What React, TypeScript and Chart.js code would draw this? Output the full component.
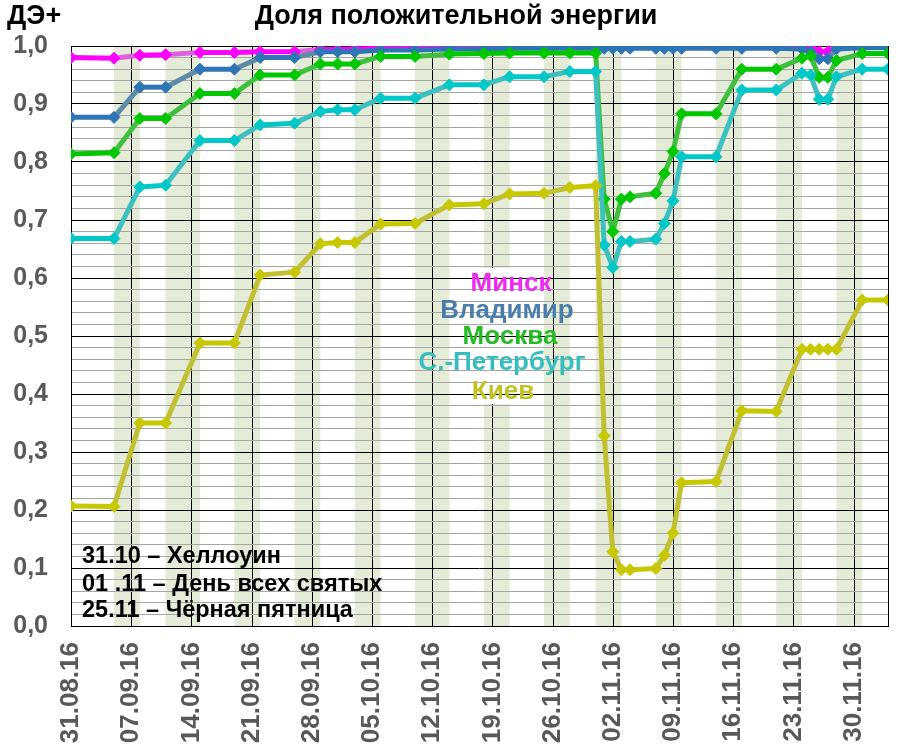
import { useEffect, useRef } from 'react';
import { Chart, registerables } from 'chart.js';

Chart.register(...registerables);

// day index counted from 31.08.16
const days = [0, 5, 8, 11, 15, 19, 22, 26, 29, 31, 33, 36, 40, 44, 48, 51, 55, 58, 61, 62, 63, 64, 65, 68, 69, 70, 71, 75, 78, 82, 85, 86, 87, 88, 89, 92, 95];

const minsk = [0.980, 0.979, 0.984, 0.985, 0.989, 0.989, 0.990, 0.990, 0.994, 0.994, 0.995, 0.996, 0.996, 0.997, 0.998, 0.998, 0.998, 0.998, 0.999, 0.999, 0.999, 0.999, 0.999, 0.999, 0.999, 0.999, 0.999, 0.999, 0.999, 0.999, 0.999, 0.997, 0.990, 0.990, 0.999, 0.999, 0.999];
const vladimir = [0.877, 0.877, 0.929, 0.929, 0.960, 0.960, 0.980, 0.980, 0.990, 0.990, 0.990, 0.993, 0.993, 0.995, 0.995, 0.996, 0.996, 0.996, 0.996, 0.996, 0.996, 0.996, 0.996, 0.996, 0.996, 0.996, 0.996, 0.996, 0.996, 0.996, 0.995, 0.990, 0.978, 0.978, 0.995, 0.997, 0.997];
const moscow = [0.814, 0.816, 0.875, 0.875, 0.918, 0.918, 0.950, 0.950, 0.969, 0.969, 0.969, 0.982, 0.982, 0.986, 0.987, 0.988, 0.988, 0.988, 0.988, 0.736, 0.680, 0.736, 0.740, 0.746, 0.780, 0.818, 0.883, 0.883, 0.960, 0.960, 0.979, 0.983, 0.946, 0.946, 0.975, 0.987, 0.987];
const spb = [0.668, 0.668, 0.757, 0.760, 0.837, 0.837, 0.864, 0.867, 0.887, 0.890, 0.890, 0.910, 0.910, 0.933, 0.933, 0.947, 0.947, 0.956, 0.956, 0.657, 0.618, 0.663, 0.663, 0.667, 0.694, 0.733, 0.809, 0.809, 0.924, 0.924, 0.953, 0.950, 0.908, 0.908, 0.947, 0.960, 0.960];
const kiev = [0.207, 0.206, 0.350, 0.350, 0.488, 0.488, 0.605, 0.610, 0.659, 0.661, 0.661, 0.693, 0.694, 0.726, 0.728, 0.745, 0.746, 0.756, 0.759, 0.328, 0.128, 0.097, 0.097, 0.099, 0.122, 0.160, 0.247, 0.249, 0.371, 0.370, 0.477, 0.477, 0.477, 0.477, 0.477, 0.562, 0.562];

const tickDays = [0, 7, 14, 21, 28, 35, 42, 49, 56, 63, 70, 77, 84, 91];
const tickLabels = ['31.08.16', '07.09.16', '14.09.16', '21.09.16', '28.09.16', '05.10.16', '12.10.16', '19.10.16', '26.10.16', '02.11.16', '09.11.16', '16.11.16', '23.11.16', '30.11.16'];

const bandStart = [5, 11, 19, 26, 33, 40, 48, 55, 61, 68, 75, 82, 89];
const bandEnd = [8, 15, 22, 29, 36, 44, 51, 58, 64, 71, 78, 85, 92];

const seriesNames = ['Минск', 'Владимир', 'Москва', 'С.-Петербург', 'Киев'];
const notes = ['31.10 – Хеллоуин', '01 .11 – День всех святых', '25.11 – Чёрная пятница'];

const Y_MIN = 0;
const Y_MAX = 1;
const Y_MINOR_COUNT = 50;

const FONT = '"Liberation Sans", Arial, sans-serif';

const isMajor = (v: number) => Math.abs(v * 10 - Math.round(v * 10)) < 1e-6;

export default function App() {
  const ref = useRef<HTMLCanvasElement>(null);

  useEffect(() => {
    if (!ref.current) return;
    const yTicks: number[] = [];
    for (let i = 0; i <= Y_MINOR_COUNT; i++) yTicks.push(Y_MIN + ((Y_MAX - Y_MIN) * i) / Y_MINOR_COUNT);

    const mk = (label: string, data: number[], main: string, slope: string, order: number) => ({
      label,
      data: days.map((d, i) => ({ x: d, y: data[i] })),
      borderColor: main,
      backgroundColor: main,
      pointBackgroundColor: main,
      pointBorderColor: main,
      borderWidth: 5,
      pointStyle: 'rectRot',
      pointRadius: 6,
      pointBorderWidth: 1,
      tension: 0,
      order,
      segment: {
        borderColor: (c: any) => (Math.abs(c.p0.parsed.y - c.p1.parsed.y) < 0.004 ? main : slope),
      },
    });

    const legendStyle = [
      { color: '#EE2AEE', x: 511, y: 284 },
      { color: '#4A7DAA', x: 507, y: 311 },
      { color: '#22BB22', x: 510, y: 337 },
      { color: '#36BDBD', x: 502, y: 363 },
      { color: '#C2C222', x: 503, y: 392 },
    ];

    const plugin = {
      id: 'decor',
      beforeDraw(chart: any) {
        const { ctx, chartArea: a, scales } = chart;
        const x = scales.x;
        ctx.save();
        ctx.fillStyle = '#E4ECD8';
        bandStart.forEach((s, i) => {
          const x0 = x.getPixelForValue(s);
          const x1 = x.getPixelForValue(bandEnd[i]);
          ctx.fillRect(x0, a.top, x1 - x0, a.bottom - a.top);
        });
        ctx.strokeStyle = '#000';
        ctx.lineWidth = 1;
        tickDays.forEach((d) => {
          const px = Math.round(x.getPixelForValue(d)) + 0.5;
          ctx.beginPath();
          ctx.moveTo(px, a.top);
          ctx.lineTo(px, a.bottom);
          ctx.stroke();
        });
        ctx.fillStyle = '#FFFFFF';
        ctx.fillRect(450, 268, 94, 136);
        ctx.restore();
      },
      beforeDatasetsDraw(chart: any) {
        const { ctx, chartArea: a } = chart;
        ctx.save();
        ctx.strokeStyle = '#000';
        ctx.lineWidth = 1;
        ctx.strokeRect(Math.round(a.left) + 0.5, Math.round(a.top) + 0.5, Math.round(a.right - a.left), Math.round(a.bottom - a.top));
        ctx.restore();
      },
      afterDraw(chart: any) {
        const { ctx } = chart;
        ctx.save();
        ctx.fillStyle = '#000';
        ctx.textBaseline = 'middle';
        ctx.font = `bold 27px ${FONT}`;
        ctx.textAlign = 'center';
        ctx.fillText('Доля положительной энергии', 456, 17);
        ctx.textAlign = 'left';
        ctx.font = `bold 27px ${FONT}`;
        ctx.fillText('ДЭ+', 7, 17);

        ctx.font = `bold 26px ${FONT}`;
        ctx.textAlign = 'center';
        seriesNames.forEach((n, i) => {
          ctx.fillStyle = legendStyle[i].color;
          ctx.fillText(n, legendStyle[i].x, legendStyle[i].y);
        });

        ctx.fillStyle = '#000';
        ctx.textAlign = 'left';
        ctx.font = `bold 23.5px ${FONT}`;
        const noteY = [557, 585, 611];
        notes.forEach((t, i) => ctx.fillText(t, 82, noteY[i]));
        ctx.restore();
      },
    };

    const chart = new Chart(ref.current, {
      type: 'line',
      data: {
        datasets: [
          mk(seriesNames[0], minsk, '#FF00FF', '#E060E0', 5),
          mk(seriesNames[1], vladimir, '#2E75B6', '#5E8BA6', 4),
          mk(seriesNames[2], moscow, '#00C800', '#3EC03E', 3),
          mk(seriesNames[3], spb, '#00C8C8', '#3EC0C0', 2),
          mk(seriesNames[4], kiev, '#C8C800', '#C0C032', 1),
        ] as any,
      },
      options: {
        responsive: false,
        animation: false,
        devicePixelRatio: 1,
        layout: { padding: { left: 0, right: 18, top: 46, bottom: 0 } },
        plugins: {
          legend: { display: false },
          tooltip: { enabled: false },
          title: { display: false },
        },
        scales: {
          x: {
            type: 'linear',
            min: 0,
            max: 95,
            afterBuildTicks: (s: any) => {
              s.ticks = tickDays.map((v) => ({ value: v }));
            },
            afterFit: (s: any) => {
              s.height = 128;
            },
            grid: { display: false, drawTicks: false },
            border: { display: false },
            ticks: {
              autoSkip: false,
              maxRotation: 90,
              minRotation: 90,
              padding: 16,
              color: '#595959',
              font: { family: FONT, size: 26, weight: 'bold' },
              callback: (_v: any, i: number) => tickLabels[i] ?? '',
            },
          },
          y: {
            min: Y_MIN,
            max: Y_MAX,
            afterBuildTicks: (s: any) => {
              s.ticks = yTicks.map((v) => ({ value: v }));
            },
            afterFit: (s: any) => {
              s.width = 71;
            },
            grid: {
              drawTicks: false,
              lineWidth: 1,
              color: (c: any) => (c.tick && isMajor(c.tick.value) ? '#000000' : '#A6A6A6'),
            },
            border: { display: false },
            ticks: {
              autoSkip: false,
              padding: 23,
              color: '#595959',
              font: { family: FONT, size: 25, weight: 'bold' },
              callback: (v: any) => (isMajor(Number(v)) ? Number(v).toFixed(1).replace('.', ',') : ''),
            },
          },
        },
      } as any,
      plugins: [plugin],
    });
    return () => chart.destroy();
  }, []);

  return (
    <div style={{ position: 'fixed', left: 0, top: 0, width: 906, height: 754, background: '#fff' }}>
      <canvas ref={ref} width={906} height={754} style={{ width: 906, height: 754, display: 'block' }} />
    </div>
  );
}
